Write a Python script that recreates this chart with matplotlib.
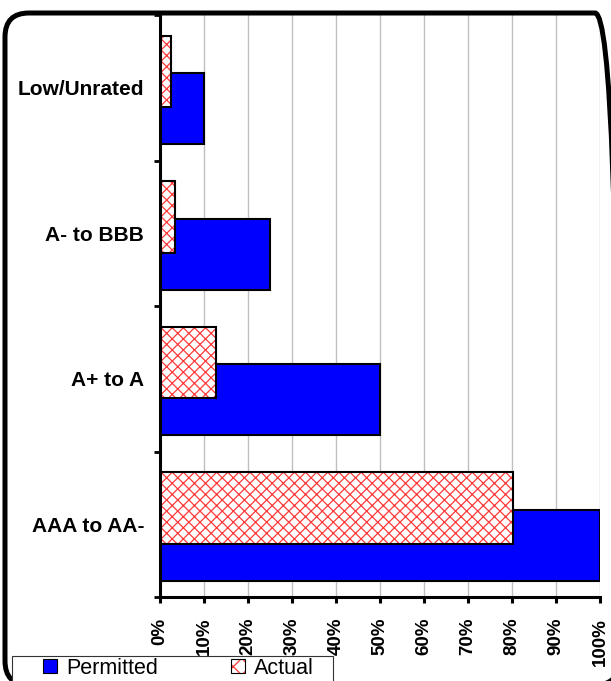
import numpy as np
import matplotlib
matplotlib.use('Agg')
import matplotlib.pyplot as plt
from matplotlib.patches import Patch, FancyBboxPatch, Rectangle
from matplotlib.transforms import IdentityTransform

plt.rcParams['font.family'] = ['Liberation Sans', 'DejaVu Sans']
plt.rcParams['hatch.linewidth'] = 0.9

# credit quality buckets, bottom to top
ratings = ['AAA to AA-', 'A+ to A', 'A- to BBB', 'Low/Unrated']
permitted = [100, 50, 25, 10]
actual = [80.3, 12.7, 3.5, 2.6]
pct_ticks = list(range(0, 101, 10))

W, H = 611, 681
fig = plt.figure(figsize=(W / 100, H / 100), dpi=100)
ax = fig.add_axes([160 / W, 84 / H, 440 / W, 582 / H])

y = np.arange(len(ratings))
bar_h = 0.49
blue = '#0000ff'
hatch_red = '#ff3a3a'

ax.barh(y - 0.144, permitted, height=bar_h, color=blue,
        edgecolor='black', linewidth=1.5, zorder=2)
# hatched fill first, then a black outline on top
ax.barh(y + 0.112, actual, height=bar_h, color='white',
        edgecolor=hatch_red, hatch='xxx', linewidth=0, zorder=3)
ax.barh(y + 0.112, actual, height=bar_h, fill=False,
        edgecolor='black', linewidth=1.5, zorder=4)

ax.set_xlim(0, 100)
ax.set_ylim(-0.5, len(ratings) - 0.5)

ax.set_xticks(pct_ticks, labels=[f'{v}%' for v in pct_ticks],
              rotation=90, fontweight='bold', fontsize=13.5)
ax.tick_params(axis='x', length=4.5, width=2.2, pad=10.5)
ax.grid(axis='x', color='#c0c0c0', linewidth=1)
ax.set_axisbelow(True)

# category boundaries get the ticks, names sit in the middle
ax.set_yticks(np.arange(-0.5, len(ratings), 1), labels=[])
ax.tick_params(axis='y', which='major', length=4, width=2)
ax.set_yticks(y, labels=ratings, minor=True)
ax.tick_params(axis='y', which='minor', length=0, pad=11.5, labelsize=15)
for lbl in ax.get_yticklabels(minor=True):
    lbl.set_fontweight('bold')

for side in ['top', 'right']:
    ax.spines[side].set_visible(False)
for side in ['left', 'bottom']:
    ax.spines[side].set_linewidth(2.2)
    ax.spines[side].set_zorder(5)

# rounded chart border in pixel units; right and bottom run off the canvas
frame = FancyBboxPatch((5, -4), 614, H - 13 + 4,
                       boxstyle='round,pad=0,rounding_size=24',
                       transform=IdentityTransform(), facecolor='none',
                       edgecolor='black', linewidth=3.6, zorder=3)
fig.add_artist(frame)

# legend box along the bottom edge
leg_box = Rectangle((12 / W, -5 / H), 321 / W, 30 / H,
                    transform=fig.transFigure, facecolor='white',
                    edgecolor='#333333', linewidth=0.8, zorder=4.9)
fig.add_artist(leg_box)

h_perm = Patch(facecolor=blue, edgecolor='black', linewidth=0.8)
h_act = (Patch(facecolor='white', edgecolor=hatch_red, hatch='xx', linewidth=0),
         Patch(fill=False, edgecolor='black', linewidth=0.8))
fig.legend([h_perm, h_act], ['Permitted', 'Actual'], ncol=2,
           loc='center left', bbox_to_anchor=(43 / W, 13 / H),
           frameon=False, fontsize=15.5, borderpad=0, borderaxespad=0,
           handlelength=0.66, handleheight=0.66, handletextpad=0.4,
           columnspacing=3.4)

fig.savefig('out.png', dpi=100)
